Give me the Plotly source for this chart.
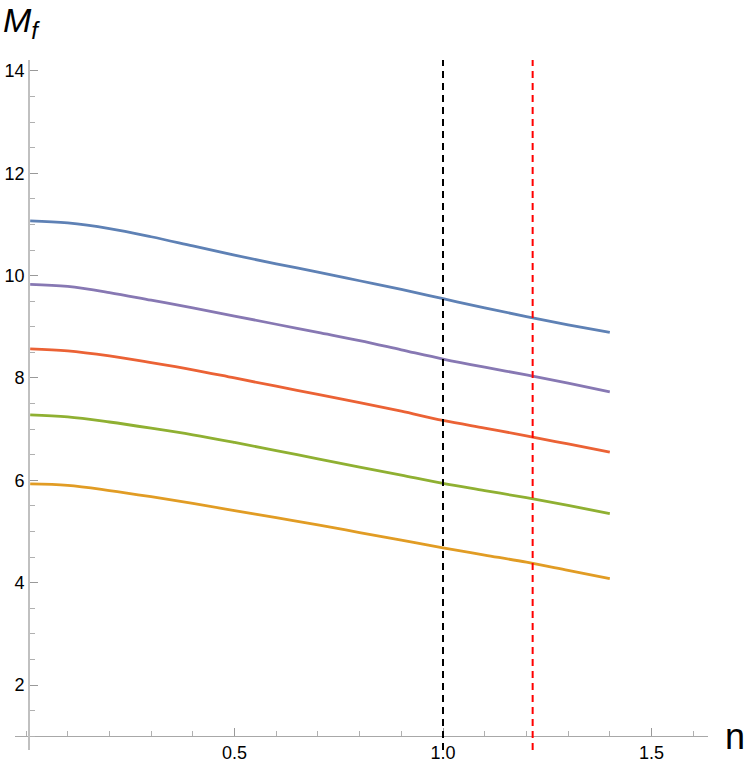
import plotly.graph_objects as go

n = [0.01, 0.1, 0.2, 0.3, 0.4, 0.5, 0.6, 0.7, 0.8, 0.9, 1.0, 1.1, 1.2, 1.3, 1.4]

# M_f curves (top to bottom)
mf_blue = [11.07, 11.03, 10.92, 10.76, 10.58, 10.40, 10.23, 10.07, 9.90, 9.73, 9.55, 9.37, 9.20, 9.04, 8.89]
mf_purple = [9.83, 9.79, 9.67, 9.52, 9.37, 9.21, 9.05, 8.89, 8.73, 8.55, 8.37, 8.21, 8.06, 7.90, 7.73]
mf_red = [8.57, 8.53, 8.43, 8.30, 8.16, 8.00, 7.84, 7.68, 7.52, 7.35, 7.17, 7.02, 6.87, 6.71, 6.55]
mf_green = [7.28, 7.24, 7.14, 7.02, 6.89, 6.74, 6.58, 6.42, 6.26, 6.10, 5.94, 5.80, 5.66, 5.51, 5.35]
mf_orange = [5.93, 5.90, 5.80, 5.68, 5.55, 5.41, 5.27, 5.13, 4.98, 4.83, 4.68, 4.54, 4.40, 4.24, 4.08]

# vertical reference lines
n_black = 1.0
n_red = 1.215

# axis ticks
x_ticks = [0.5, 1.0, 1.5]
x_ticklabels = ["0.5", "1.0", "1.5"]
y_ticks = [2, 4, 6, 8, 10, 12, 14]

curves = [
    (mf_blue, "#5E81B5"),
    (mf_purple, "#8778B3"),
    (mf_red, "#EB6235"),
    (mf_green, "#8FB032"),
    (mf_orange, "#E19C24"),
]

fig = go.Figure()
for vals, col in curves:
    fig.add_trace(go.Scatter(x=n, y=vals, mode="lines",
                             line=dict(color=col, width=2.8, shape="spline", smoothing=1.0),
                             showlegend=False, hoverinfo="skip"))

# dashed vertical lines
for xv, col in [(n_black, "black"), (n_red, "#ff0000")]:
    fig.add_shape(type="line", xref="x", yref="paper", x0=xv, x1=xv, y0=0, y1=1,
                  line=dict(color=col, width=2, dash="7px,5px"))

font = dict(family="Liberation Sans, Arial, sans-serif", size=18, color="black")

fig.update_layout(
    width=747, height=772,
    margin=dict(l=15, r=39, t=60, b=22),
    plot_bgcolor="white", paper_bgcolor="white",
    font=font,
    xaxis=dict(range=[-0.0264, 1.6355], showgrid=False, zeroline=False, automargin=False,
               showline=True, linecolor="#a8a8a8", linewidth=1,
               anchor="free", position=0.02,
               tickmode="array", tickvals=x_ticks, ticktext=x_ticklabels,
               ticks="inside", ticklen=8, tickcolor="#999999", tickwidth=1,
               minor=dict(ticks="inside", ticklen=5, tickcolor="#b0b0b0", dtick=0.1, tick0=0),
               tickfont=font),
    yaxis=dict(range=[0.730, 14.214], showgrid=False, zeroline=False, automargin=False,
               showline=True, linecolor="#c0c0c0", linewidth=1.6,
               anchor="free", position=0.0202,
               tickmode="array", tickvals=y_ticks,
               ticks="inside", ticklen=8, tickcolor="#999999", tickwidth=1,
               minor=dict(ticks="inside", ticklen=5, tickcolor="#b0b0b0", dtick=0.5, tick0=0),
               tickfont=font),
)

# axis labels, Mathematica style
fig.add_annotation(text="<i>M<sub>f</sub></i>", xref="paper", yref="paper", x=-0.02, y=1.0,
                   yshift=38, xanchor="left", yanchor="middle", showarrow=False,
                   font=dict(family="Liberation Sans, Arial, sans-serif", size=34, color="black"))
fig.add_annotation(text="n", xref="paper", yref="paper", x=1.0, y=0.02,
                   xshift=27, yshift=0, xanchor="center", yanchor="middle", showarrow=False,
                   font=dict(family="Liberation Sans, Arial, sans-serif", size=36, color="black"))

# drop the default 8px body margin so the figure fills the window exactly
fig.write_html("out.html", config={"displayModeBar": False},
               post_script="document.body.style.margin='0';")
